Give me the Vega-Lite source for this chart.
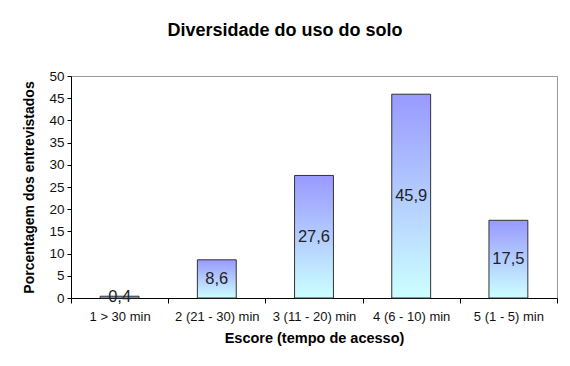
{
  "$schema": "https://vega.github.io/schema/vega-lite/v6.json",
  "width": 486,
  "height": 222,
  "autosize": {"type": "none"},
  "padding": {"left": 71, "top": 76, "right": 13, "bottom": 68},
  "background": "white",
  "title": {
    "text": "Diversidade do uso do solo",
    "font": "Liberation Sans",
    "fontSize": 18,
    "fontWeight": "bold",
    "color": "#000000",
    "anchor": "middle",
    "dx": -29,
    "offset": 29
  },
  "data": {
    "values": [
      {"escore": "1 > 30 min", "pct": 0.4, "label": "0,4"},
      {"escore": "2 (21 - 30) min", "pct": 8.6, "label": "8,6"},
      {"escore": "3 (11 - 20) min", "pct": 27.6, "label": "27,6"},
      {"escore": "4 (6 - 10) min", "pct": 45.9, "label": "45,9"},
      {"escore": "5 (1 - 5) min", "pct": 17.5, "label": "17,5"}
    ]
  },
  "encoding": {
    "x": {
      "field": "escore",
      "type": "nominal",
      "sort": null,
      "scale": {"paddingInner": 0, "paddingOuter": 0},
      "axis": {
        "title": "Escore (tempo de acesso)",
        "titleFont": "Liberation Sans",
        "titleFontSize": 14.5,
        "titleFontWeight": "bold",
        "titleColor": "#000000",
        "titlePadding": 8,
        "labelFont": "Liberation Sans",
        "labelFontSize": 13,
        "labelColor": "#111111",
        "labelAngle": 0,
        "labelPadding": 7,
        "labelOverlap": false,
        "tickBand": "extent",
        "tickSize": 5,
        "tickColor": "#000000",
        "domainColor": "#000000",
        "grid": false
      }
    }
  },
  "layer": [
    {
      "mark": {
        "type": "bar",
        "width": {"band": 0.4},
        "stroke": "#333333",
        "strokeWidth": 1,
        "color": {
          "gradient": "linear",
          "x1": 0, "y1": 1, "x2": 0, "y2": 0,
          "stops": [
            {"offset": 0, "color": "#ccffff"},
            {"offset": 1, "color": "#9999ff"}
          ]
        }
      },
      "encoding": {
        "y": {
          "field": "pct",
          "type": "quantitative",
          "scale": {"domain": [0, 50], "nice": false},
          "axis": {
            "title": "Porcentagem dos entrevistados",
            "titleFont": "Liberation Sans",
            "titleFontSize": 14,
            "titleFontWeight": "bold",
            "titleColor": "#000000",
            "titlePadding": 12,
            "labelFont": "Liberation Sans",
            "labelFontSize": 13.5,
            "labelColor": "#111111",
            "labelPadding": 3,
            "labelOverlap": false,
            "values": [0, 5, 10, 15, 20, 25, 30, 35, 40, 45, 50],
            "tickSize": 4,
            "tickColor": "#000000",
            "domainColor": "#000000",
            "grid": false
          }
        }
      }
    },
    {
      "transform": [{"calculate": "datum.pct / 2", "as": "mid"}],
      "mark": {
        "type": "text",
        "font": "Liberation Sans",
        "fontSize": 16.5,
        "color": "#222222",
        "baseline": "middle",
        "align": "center"
      },
      "encoding": {
        "y": {
          "field": "mid",
          "type": "quantitative",
          "scale": {"domain": [0, 50], "nice": false},
          "axis": {
            "title": "Porcentagem dos entrevistados",
            "titleFont": "Liberation Sans",
            "titleFontSize": 14,
            "titleFontWeight": "bold",
            "titleColor": "#000000",
            "titlePadding": 12,
            "labelFont": "Liberation Sans",
            "labelFontSize": 13.5,
            "labelColor": "#111111",
            "labelPadding": 3,
            "labelOverlap": false,
            "values": [0, 5, 10, 15, 20, 25, 30, 35, 40, 45, 50],
            "tickSize": 4,
            "tickColor": "#000000",
            "domainColor": "#000000",
            "grid": false
          }
        },
        "text": {"field": "label"}
      }
    }
  ],
  "config": {
    "view": {"stroke": "#999999", "strokeWidth": 1}
  }
}
